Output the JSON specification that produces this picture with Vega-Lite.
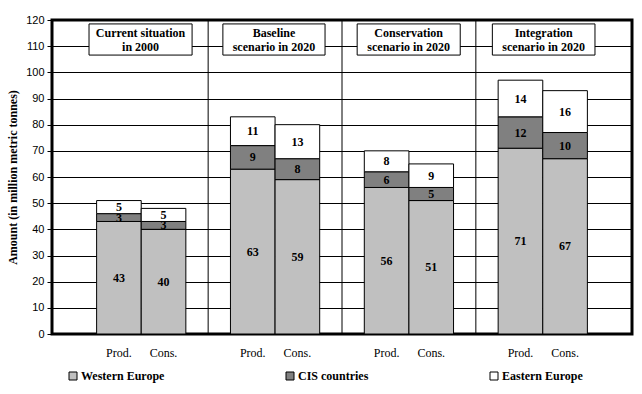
{
  "$schema": "https://vega.github.io/schema/vega-lite/v6.json",
  "width": 580,
  "height": 314,
  "autosize": {"type": "none"},
  "padding": {"left": 52, "top": 20, "right": 10, "bottom": 60},
  "background": "white",
  "config": {
    "view": {"stroke": "black", "strokeWidth": 3},
    "axis": {"labelColor": "black", "titleColor": "black"},
    "axisY": {
      "tickCount": 12, "labelOverlap": false,
      "grid": true, "gridColor": "black", "gridWidth": 1, "gridOpacity": 1,
      "domain": false, "tickColor": "black", "tickSize": 5, "tickWidth": 1,
      "labelFont": "Liberation Sans", "labelFontSize": 11, "labelPadding": 3,
      "titleFont": "Liberation Serif", "titleFontSize": 12, "titleFontWeight": "bold",
      "titlePadding": 6
    },
    "axisX": {"grid": false}
  },
  "datasets": {
    "bars": [
      {"bar": "Current|Prod.", "region": "Western Europe", "rank": 1, "value": 43},
      {"bar": "Current|Prod.", "region": "CIS countries", "rank": 2, "value": 3},
      {"bar": "Current|Prod.", "region": "Eastern Europe", "rank": 3, "value": 5},
      {"bar": "Current|Cons.", "region": "Western Europe", "rank": 1, "value": 40},
      {"bar": "Current|Cons.", "region": "CIS countries", "rank": 2, "value": 3},
      {"bar": "Current|Cons.", "region": "Eastern Europe", "rank": 3, "value": 5},
      {"bar": "Baseline|Prod.", "region": "Western Europe", "rank": 1, "value": 63},
      {"bar": "Baseline|Prod.", "region": "CIS countries", "rank": 2, "value": 9},
      {"bar": "Baseline|Prod.", "region": "Eastern Europe", "rank": 3, "value": 11},
      {"bar": "Baseline|Cons.", "region": "Western Europe", "rank": 1, "value": 59},
      {"bar": "Baseline|Cons.", "region": "CIS countries", "rank": 2, "value": 8},
      {"bar": "Baseline|Cons.", "region": "Eastern Europe", "rank": 3, "value": 13},
      {"bar": "Conservation|Prod.", "region": "Western Europe", "rank": 1, "value": 56},
      {"bar": "Conservation|Prod.", "region": "CIS countries", "rank": 2, "value": 6},
      {"bar": "Conservation|Prod.", "region": "Eastern Europe", "rank": 3, "value": 8},
      {"bar": "Conservation|Cons.", "region": "Western Europe", "rank": 1, "value": 51},
      {"bar": "Conservation|Cons.", "region": "CIS countries", "rank": 2, "value": 5},
      {"bar": "Conservation|Cons.", "region": "Eastern Europe", "rank": 3, "value": 9},
      {"bar": "Integration|Prod.", "region": "Western Europe", "rank": 1, "value": 71},
      {"bar": "Integration|Prod.", "region": "CIS countries", "rank": 2, "value": 12},
      {"bar": "Integration|Prod.", "region": "Eastern Europe", "rank": 3, "value": 14},
      {"bar": "Integration|Cons.", "region": "Western Europe", "rank": 1, "value": 67},
      {"bar": "Integration|Cons.", "region": "CIS countries", "rank": 2, "value": 10},
      {"bar": "Integration|Cons.", "region": "Eastern Europe", "rank": 3, "value": 16}
    ],
    "gaps": [{"bar": "gap1"}, {"bar": "gap2"}, {"bar": "gap3"}],
    "titles": [
      {"label": "Current situation\nin 2000", "x0": 0.83, "x1": 3.14, "xm": 1.985, "y0": 106.6, "y1": 118.5, "ym": 115.0},
      {"label": "Baseline\nscenario in 2020", "x0": 3.83, "x1": 6.12, "xm": 4.975, "y0": 106.6, "y1": 118.5, "ym": 115.0},
      {"label": "Conservation\nscenario in 2020", "x0": 6.84, "x1": 9.15, "xm": 7.995, "y0": 106.6, "y1": 118.5, "ym": 115.0},
      {"label": "Integration\nscenario in 2020", "x0": 9.87, "x1": 12.17, "xm": 11.02, "y0": 106.6, "y1": 118.5, "ym": 115.0}
    ]
  },
  "layer": [
    {
      "layer": [
        {
          "data": {"name": "gaps"},
          "mark": {"type": "rule", "color": "black", "strokeWidth": 1},
          "encoding": {
            "x": {
              "field": "bar", "type": "nominal",
              "scale": {"domain": ["gap0", "Current|Prod.", "Current|Cons.", "gap1", "Baseline|Prod.", "Baseline|Cons.", "gap2", "Conservation|Prod.", "Conservation|Cons.", "gap3", "Integration|Prod.", "Integration|Cons.", "gap4"], "paddingInner": 0, "paddingOuter": 0},
              "axis": {
                "title": null, "ticks": false, "domain": false, "labelAngle": 0,
                "labelPadding": 13, "labelFont": "Liberation Serif", "labelFontSize": 12,
                "labelExpr": "indexof(datum.value, '|') >= 0 ? split(datum.value, '|')[1] : ''"
              }
            }
          }
        },
        {
          "data": {"name": "bars"},
          "mark": {"type": "bar", "stroke": "black", "strokeWidth": 1},
          "encoding": {
            "x": {"field": "bar", "type": "nominal"},
            "y": {
              "field": "value", "type": "quantitative", "stack": "zero",
              "title": "Amount (in million metric tonnes)",
              "scale": {"domain": [0, 120], "nice": false}
            },
            "color": {
              "field": "region", "type": "nominal",
              "scale": {"domain": ["Western Europe", "CIS countries", "Eastern Europe"], "range": ["#C0C0C0", "#808080", "#FFFFFF"]},
              "legend": {
                "title": null, "orient": "none", "legendX": 15, "legendY": 350,
                "direction": "horizontal", "columns": 3, "columnPadding": 119,
                "symbolType": "square", "symbolSize": 64, "symbolStrokeColor": "black", "symbolStrokeWidth": 1, "symbolOpacity": 1,
                "labelFont": "Liberation Serif", "labelFontSize": 12, "labelFontWeight": "bold", "labelColor": "black", "labelOffset": 2,
                "padding": 0
              }
            },
            "order": {"field": "rank", "type": "quantitative"}
          }
        },
        {
          "data": {"name": "bars"},
          "mark": {"type": "text", "font": "Liberation Serif", "fontSize": 12, "fontWeight": "bold", "color": "black", "baseline": "middle"},
          "encoding": {
            "x": {"field": "bar", "type": "nominal"},
            "y": {"field": "value", "type": "quantitative", "stack": "zero", "bandPosition": 0.5, "title": "Amount (in million metric tonnes)"},
            "detail": {"field": "region", "type": "nominal"},
            "order": {"field": "rank", "type": "quantitative"},
            "text": {"field": "value", "type": "quantitative"}
          }
        }
      ]
    },
    {
      "data": {"name": "titles"},
      "layer": [
        {
          "mark": {"type": "rect", "fill": "white", "stroke": "black", "strokeWidth": 1},
          "encoding": {
            "x": {"field": "x0", "type": "quantitative", "scale": {"domain": [0, 13], "nice": false, "zero": false}, "axis": null},
            "x2": {"field": "x1"},
            "y": {"field": "y0", "type": "quantitative", "title": "Amount (in million metric tonnes)"},
            "y2": {"field": "y1"}
          }
        },
        {
          "mark": {"type": "text", "font": "Liberation Serif", "fontSize": 12, "fontWeight": "bold", "color": "black", "lineBreak": "\n", "lineHeight": 14, "baseline": "middle", "align": "center"},
          "encoding": {
            "x": {"field": "xm", "type": "quantitative", "axis": null},
            "y": {"field": "ym", "type": "quantitative", "title": "Amount (in million metric tonnes)"},
            "text": {"field": "label"}
          }
        }
      ]
    }
  ],
  "resolve": {"scale": {"x": "independent"}, "axis": {"x": "independent"}}
}
